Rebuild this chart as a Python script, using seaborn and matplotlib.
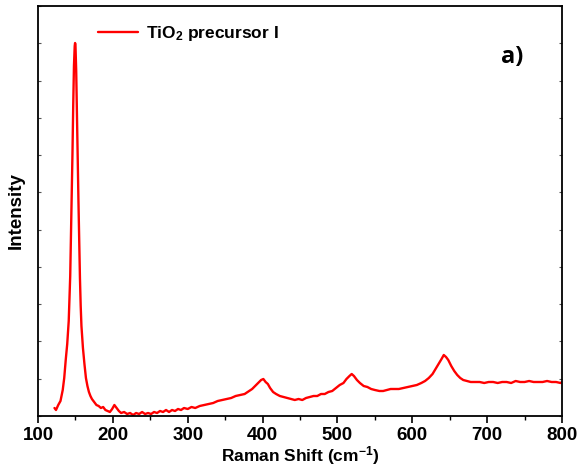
import numpy as np
import pandas as pd
import matplotlib
matplotlib.use("Agg")
import matplotlib.pyplot as plt
import seaborn as sns

sns.set_style("ticks")
plt.rcParams['font.family'] = ['Liberation Sans', 'DejaVu Sans']
plt.rcParams['font.weight'] = 'bold'
plt.rcParams['text.color'] = 'black'
plt.rcParams['axes.labelcolor'] = 'black'
plt.rcParams['xtick.color'] = 'black'
plt.rcParams['ytick.color'] = 'black'
plt.rcParams['mathtext.fontset'] = 'custom'
plt.rcParams['mathtext.rm'] = 'Liberation Sans:bold'
plt.rcParams['mathtext.bf'] = 'Liberation Sans:bold'
plt.rcParams['mathtext.it'] = 'Liberation Sans:bold'
plt.rcParams['mathtext.default'] = 'bf'

# Raman spectrum (arbitrary intensity units)
raman_shift = [
    122, 124, 127, 130, 133, 135, 137, 139, 141, 143, 145, 146, 147, 148, 149, 149.5,
    150, 151, 152, 153, 154, 155, 156, 157, 158, 160, 162, 164, 166, 168, 170, 172,
    175, 178, 181, 184, 187, 190, 193, 196, 199, 202, 205, 208, 211, 215, 219, 223,
    227, 231, 235, 239, 243, 247, 251, 255, 259, 263, 267, 271, 275, 279, 283, 287,
    291, 295, 300, 305, 310, 316, 322, 328, 334, 340, 346, 352, 358, 364, 370, 376,
    382, 386, 390, 394, 398, 401, 404, 407, 410, 414, 418, 423, 428, 433, 438, 443,
    448, 453, 458, 463, 468, 473, 478, 483, 488, 493, 498, 503, 508, 512, 516, 519,
    522, 526, 530, 535, 540, 545, 550, 556, 561, 566, 571, 576, 582, 588, 594, 600,
    606, 612, 617, 622, 627, 631, 635, 639, 642, 645, 648, 652, 656, 660, 664, 668,
    673, 678, 684, 690, 696, 702, 708, 714, 720, 726, 732, 738, 744, 750, 756, 762,
    768, 774, 780, 786, 792, 798, 800,
]
intensity = [
    8, 6, 11, 15, 26, 38, 56, 72, 95, 140, 220, 262, 310, 350, 370, 373,
    371, 345, 300, 255, 215, 175, 138, 110, 90, 68, 52, 38, 30, 24, 20, 17,
    14, 11, 10, 8, 9, 6, 5, 4, 7, 11, 8, 5, 3, 4, 2, 3,
    1, 3, 2, 4, 2, 3, 2, 4, 3, 5, 4, 6, 4, 6, 5, 7,
    6, 8, 7, 9, 8, 10, 11, 12, 13, 15, 16, 17, 18, 20, 21, 22,
    25, 27, 30, 33, 36, 37, 34, 32, 28, 24, 22, 20, 19, 18, 17, 16,
    17, 16, 18, 19, 20, 20, 22, 22, 24, 25, 28, 31, 33, 37, 40, 42,
    40, 36, 33, 30, 29, 27, 26, 25, 25, 26, 27, 27, 27, 28, 29, 30,
    31, 33, 35, 38, 42, 47, 52, 57, 61, 59, 56, 50, 45, 41, 38, 36,
    35, 34, 34, 34, 33, 34, 34, 33, 34, 34, 33, 35, 34, 34, 35, 34,
    34, 34, 35, 34, 34, 33, 34,
]
x_ticks = [100, 200, 300, 400, 500, 600, 700, 800]

df = pd.DataFrame({'shift': raman_shift, 'intensity': intensity})

fig = plt.figure(figsize=(5.77, 4.70), dpi=100)
ax = fig.add_axes([0.0659, 0.1149, 0.9082, 0.8723])

sns.lineplot(data=df, x='shift', y='intensity', color='red', linewidth=1.7,
             label='TiO$_2$ precursor I', ax=ax, sort=False)

ax.set_xlim(100, 800)
ax.set_ylim(0, 410)
ax.set_xticks(x_ticks)
ax.set_xticks(np.arange(150, 800, 100), minor=True)
ax.set_yticks(np.linspace(0, 410, 12))
ax.set_yticklabels([])

ax.tick_params(axis='x', which='major', direction='out', length=5, width=1.2,
               labelsize=13.5, pad=3, top=False)
ax.tick_params(axis='x', which='minor', direction='out', length=3, width=1.0, top=False)
ax.tick_params(axis='y', which='major', direction='in', length=2, width=0.8,
               left=True, right=True, color='#555555')
for lab in ax.get_xticklabels():
    lab.set_fontweight('bold')

for sp in ax.spines.values():
    sp.set_linewidth(1.3)
    sp.set_color('black')

ax.set_xlabel('Raman Shift (cm$^{-1}$)', fontsize=12.5, fontweight='bold', labelpad=0)
ax.set_ylabel('Intensity', fontsize=13.5, fontweight='bold', labelpad=6)

leg = ax.legend(loc='upper left', bbox_to_anchor=(0.085, 0.995), frameon=False,
                fontsize=12.5, handlelength=2.3, handletextpad=0.45)
for t in leg.get_texts():
    t.set_fontweight('bold')

ax.text(0.905, 0.876, 'a)', transform=ax.transAxes, fontsize=17, fontweight='bold',
        family=['Open Sans', 'DejaVu Sans'], ha='center', va='center')

fig.savefig('out.png', dpi=100)
